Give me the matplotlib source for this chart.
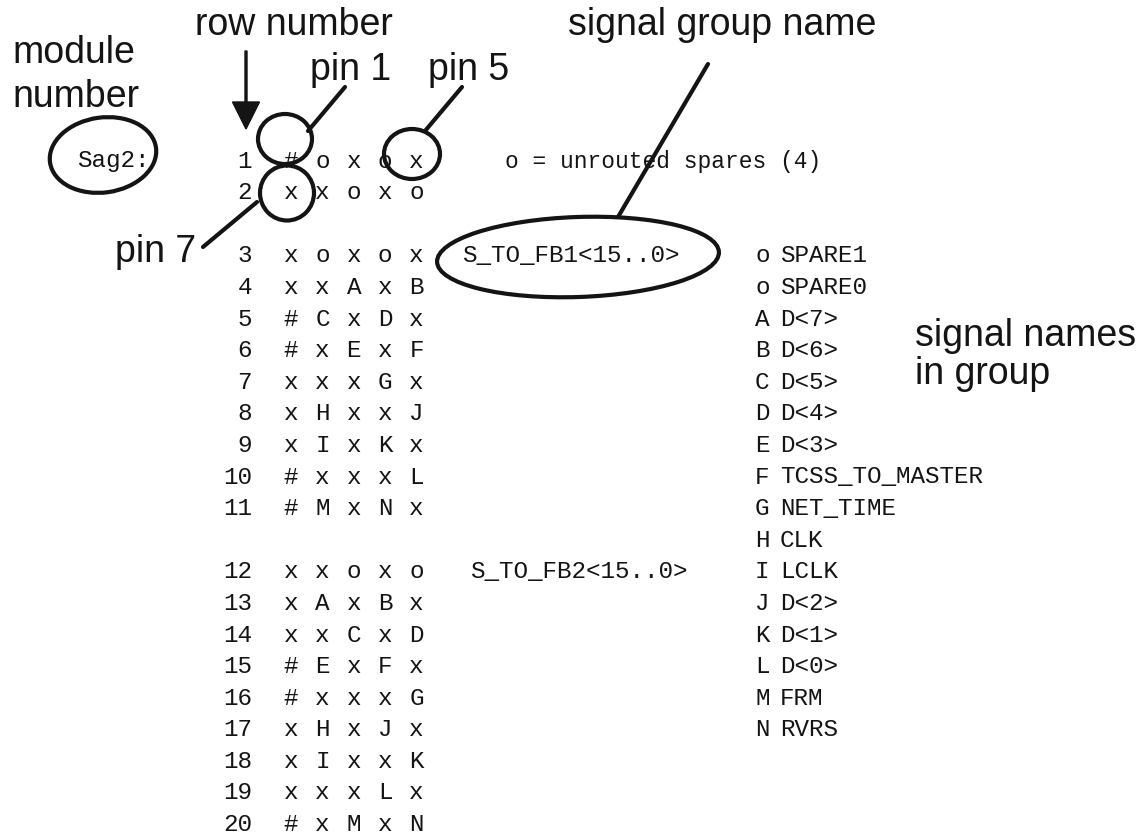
import matplotlib
matplotlib.use('Agg')
import matplotlib.pyplot as plt
from matplotlib.patches import Ellipse, FancyArrow

# pin map of module Sag2, one string per row, pins left to right
row_numbers = list(range(1, 21))
pin_rows = [
    '# o x o x', 'x x o x o',
    'x o x o x', 'x x A x B', '# C x D x', '# x E x F', 'x x x G x',
    'x H x x J', 'x I x K x', '# x x x L', '# M x N x',
    'x x o x o', 'x A x B x', 'x x C x D', '# E x F x', '# x x x G',
    'x H x J x', 'x I x x K', 'x x x L x', '# x M x N',
]
signal_codes = ['o', 'o', 'A', 'B', 'C', 'D', 'E', 'F', 'G', 'H',
                'I', 'J', 'K', 'L', 'M', 'N']
signal_names = ['SPARE1', 'SPARE0', 'D<7>', 'D<6>', 'D<5>', 'D<4>', 'D<3>',
                'TCSS_TO_MASTER', 'NET_TIME', 'CLK', 'LCLK', 'D<2>', 'D<1>',
                'D<0>', 'FRM', 'RVRS']
group_names = ['S_TO_FB1<15..0>', 'S_TO_FB2<15..0>']
group_first_rows = [3, 12]
module_name = 'Sag2:'
spare_note = 'o = unrouted spares (4)'

W, H = 1137, 837
INK = '#141414'
MONO = dict(family='Liberation Mono', fontsize=17.5, color=INK)
SANS = dict(family='Liberation Sans', fontsize=27, color=INK)

# layout: one text line per "slot", blank slots between the row blocks
Y0, PITCH = 161, 31.6
NUM_RIGHT, PIN_X0, PIN_DX = 252, 291, 31.4


def slot(r):
    if r <= 2:
        return r - 1
    if r <= 11:
        return r
    return r + 1


def row_y(r):
    return Y0 + slot(r) * PITCH


fig = plt.figure(figsize=(W / 100, H / 100), dpi=100)
ax = fig.add_axes([0, 0, 1, 1])
ax.set_xlim(0, W)
ax.set_ylim(H, 0)
ax.set_aspect('equal')
ax.axis('off')

# the pin grid
for r, pins in zip(row_numbers, pin_rows):
    y = row_y(r)
    ax.text(NUM_RIGHT, y, str(r), ha='right', va='center', **MONO)
    for k, p in enumerate(pins.split()):
        ax.text(PIN_X0 + k * PIN_DX, y, p, ha='center', va='center', **MONO)

ax.text(505, row_y(1), spare_note, ha='left', va='center',
        **{**MONO, 'fontsize': 16.5})
ax.text(77, 160, module_name, ha='left', va='center', **MONO)

for name, r, x in zip(group_names, group_first_rows, [462, 470]):
    ax.text(x, row_y(r), name, ha='left', va='center', **MONO)

# legend of the signals in the group
for i, (c, n) in enumerate(zip(signal_codes, signal_names)):
    y = row_y(3) + i * PITCH
    ax.text(755, y, c, ha='left', va='center', **MONO)
    ax.text(780, y, n, ha='left', va='center', **MONO)

# hand drawn call-outs
ax.text(12, 63, 'module', ha='left', va='baseline', **SANS)
ax.text(12, 107, 'number', ha='left', va='baseline', **SANS)
ax.text(195, 35, 'row number', ha='left', va='baseline', **SANS)
ax.text(310, 80, 'pin 1', ha='left', va='baseline', **SANS)
ax.text(428, 80, 'pin 5', ha='left', va='baseline', **SANS)
ax.text(115, 262, 'pin 7', ha='left', va='baseline', **SANS)
ax.text(568, 35, 'signal group name', ha='left', va='baseline', **SANS)
ax.text(915, 346, 'signal names', ha='left', va='baseline', **SANS)
ax.text(915, 384, 'in group', ha='left', va='baseline', **SANS)

ring = dict(fill=False, ec=INK, lw=3.0)
ax.add_patch(Ellipse((103, 156), 107, 75, angle=-8, **ring))
ax.add_patch(Ellipse((285, 140), 54, 50, **ring))
ax.add_patch(Ellipse((412, 155), 56, 50, **ring))
ax.add_patch(Ellipse((287, 194), 54, 55, **ring))
ax.add_patch(Ellipse((578, 258), 282, 80, angle=-2, **ring))

lead = dict(color=INK, lw=3.0, solid_capstyle='round')
ax.plot([345, 308], [88, 132], **lead)
ax.plot([462, 425], [88, 132], **lead)
ax.plot([257, 203], [203, 248], **lead)
ax.plot([708, 618], [65, 218], **lead)

ax.add_patch(FancyArrow(246, 52, 0, 78, width=2, head_width=27,
                        head_length=27, length_includes_head=True,
                        color=INK))

fig.savefig('out.png', dpi=100, facecolor='white')
